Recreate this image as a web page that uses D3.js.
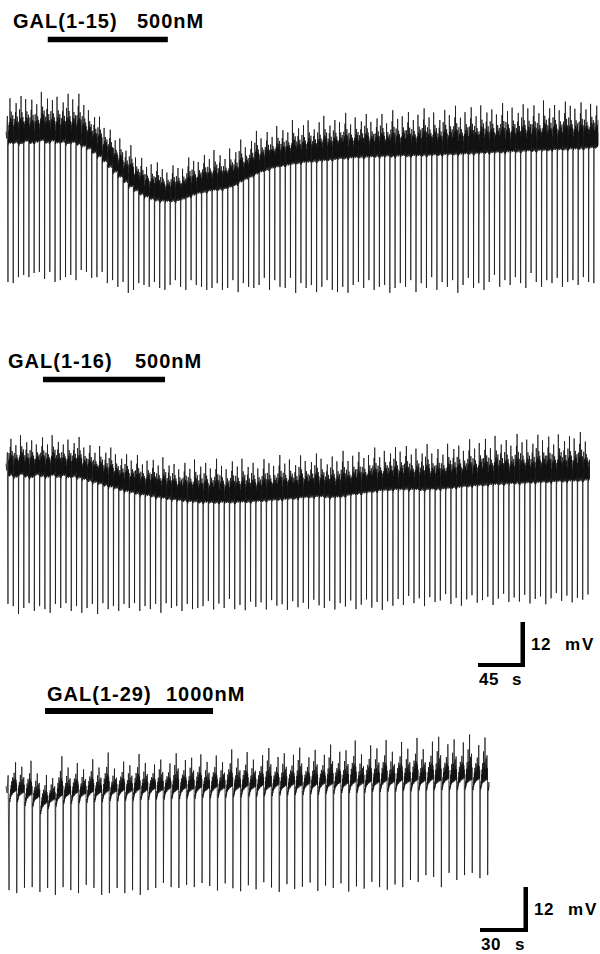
<!DOCTYPE html>
<html>
<head>
<meta charset="utf-8">
<script src="https://cdn.jsdelivr.net/npm/d3@7"></script>
<style>
  body { margin: 0; background: #fff; }
  svg text { font-family: "Liberation Sans", Arial, Helvetica, sans-serif; font-weight: bold; fill: #000; }
</style>
</head>
<body>
<div id="chart"></div>
<script>
// recordings: one value per spike cycle, mV relative to the control baseline
// GAL(1-15) 500nM
var base1 = [0.3, 0.5, 0.2, 0.8, 0.4, 0.6, 1.0, 0.5, 0.9, 0.4, 0.7, 0.2, 0.5, 0.0,
    -0.5, -1.2, -2.2, -3.3, -4.6, -6.0,
    -7.4, -8.7, -10.0, -11.3, -12.4, -13.3, -14.0, -14.6, -14.9, -15.1,
    -15.2, -15.1, -15.0, -14.6, -14.0, -13.5, -13.0, -12.7, -12.4, -12.2,
    -12.0, -11.8, -11.4, -10.8, -10.0, -9.3, -8.6, -7.9, -7.3, -6.8,
    -6.3, -6.0, -5.7, -5.5, -5.2, -5.0, -4.8, -4.7, -4.5, -4.4,
    -4.3, -4.1, -4.0, -3.8, -3.7, -3.6, -3.5, -3.4, -3.4, -3.3,
    -3.2, -3.2, -3.1, -3.2, -3.1, -3.0, -3.1, -3.0, -3.0, -2.9,
    -2.9, -2.8, -2.8, -2.7, -2.7, -2.6, -2.6, -2.5, -2.4, -2.4,
    -2.3, -2.2, -2.2, -2.1, -2.1, -2.0, -1.9, -1.9, -1.8, -1.7,
    -1.7, -1.6, -1.6, -1.5, -1.4, -1.4, -1.3, -1.2, -1.2, -1.1,
    -1.0, -0.9, -0.8];
var trough1 = [-39.2, -39.5, -37.9, -37.3, -37.9, -36.8, -36.5, -38.4, -36.5, -39.2, -38.7, -37.9, -37.3, -38.7, -36.0, -36.5, -38.1, -37.9, -36.5, -39.5,
    -38.7, -40.5, -39.2, -42.1, -41.3, -39.5, -40.0, -40.5, -39.2, -40.8, -41.3, -40.0, -38.7, -40.5, -41.3, -38.7, -40.0,
    -40.5, -41.3, -40.8, -39.5, -41.3, -40.8, -38.7, -41.9, -39.5, -40.5, -40.8, -40.0, -38.1, -41.3, -38.7, -40.5, -40.8, -38.1, -42.1, -39.5,
    -40.8, -40.0, -41.9, -40.5, -38.7, -41.3, -41.9, -40.5, -42.1, -40.0, -39.2, -40.8, -38.7, -41.3, -40.5, -40.0, -42.1, -40.8, -39.5,
    -40.5, -38.7, -41.9, -39.5, -40.8, -37.9, -41.3, -39.2, -40.5, -38.7, -42.1, -40.0, -38.1, -40.8, -39.5, -41.3, -39.2, -37.3, -40.5, -38.7,
    -40.0, -37.9, -39.5, -40.8, -36.8, -39.2, -40.5, -38.7, -39.5, -38.1, -40.5, -39.2, -38.7, -40.0, -37.9, -39.2, -39.5];
var peak1 = [9.5, 8.0, 10.2, 8.8, 9.0, 7.6, 10.5, 9.2, 8.4, 9.8, 8.0, 10.8, 9.0, 11.0, 8.5, 7.8,
    7.0, 8.2, 6.5, 7.4, 6.0, 7.8, 5.8, 8.6, 6.4, 7.2, 5.5, 6.8, 7.6, 6.0, 5.2, 7.0, 6.2, 5.6, 8.0, 6.6,
    5.8, 7.4, 6.0, 8.2, 6.6, 5.4, 7.8, 6.2, 8.8, 6.0, 7.0, 9.0, 6.4, 7.6, 5.8, 8.4, 7.0, 6.2, 9.2, 6.8,
    7.4, 8.6, 6.0, 7.8, 9.4, 6.6, 8.0, 7.2, 9.6, 6.4, 8.2, 7.0, 9.0, 6.8, 7.6, 8.8, 6.2, 9.8, 7.4, 8.0,
    9.2, 7.0, 8.4, 10.0, 7.6, 8.8, 6.8, 9.4, 8.0, 10.4, 7.2, 8.6, 9.8, 7.4, 10.2, 8.2, 9.0, 7.6, 10.6, 8.4,
    9.2, 7.8, 10.0, 8.8, 9.6, 7.4, 10.8, 8.6, 9.4, 8.0, 10.2, 9.0, 8.2, 9.8, 7.8, 9.2, 8.6];

// GAL(1-16) 500nM
var base2 = [0.3, -0.2, 0.5, 0.0, -0.3, 0.4, 0.1, -0.2, 0.3, -0.1, 0.2, -0.3, 0.0, -0.4,
    -0.8, -1.2, -1.6, -2.0,
    -2.4, -2.8, -3.2, -3.6, -4.0, -4.3, -4.6, -4.9, -5.1, -5.3,
    -5.6, -5.8, -6.0, -6.2, -6.4, -6.5, -6.7, -6.8, -6.9,
    -6.9, -7.0, -7.0, -6.9, -7.0, -6.9, -6.9, -6.8, -6.8, -6.7,
    -6.6, -6.5, -6.4, -6.3, -6.2, -6.1, -6.0, -5.9, -5.7, -5.6,
    -5.5, -5.4, -5.4, -5.5, -5.6, -5.5, -5.3, -5.0, -4.8, -4.6,
    -4.4, -4.2, -4.0, -3.8, -3.7, -3.6, -3.5, -3.5, -3.4, -3.5,
    -3.5, -3.6, -3.5, -3.4, -3.4, -3.3, -3.2, -3.0, -2.9, -2.7,
    -2.6, -2.5, -2.4, -2.3, -2.2, -2.1, -2.0, -2.0, -1.9, -1.8,
    -1.8, -1.7, -1.6, -1.6, -1.5, -1.5, -1.4, -1.3, -1.3, -1.2, -1.2, -1.1, -1.0, -1.0];
var trough2 = [-36.5, -37.1, -39.2, -37.6, -36.3, -38.4, -37.1, -37.9, -38.9, -36.5, -37.6, -36.3, -38.4, -37.1, -38.9, -37.6, -36.5, -39.2, -36.3,
    -37.9, -37.1, -38.4, -36.5, -37.6, -36.3, -38.4, -37.1, -37.9, -36.5, -38.9, -36.3, -37.6, -37.1, -38.4, -36.5, -37.9, -37.6,
    -37.1, -35.7, -38.0, -36.4, -37.6, -35.2, -37.9, -36.8, -38.2, -35.9, -37.3, -36.1, -38.0, -35.5, -37.0, -36.6, -38.1, -35.8,
    -37.4, -36.2, -37.8, -35.4, -36.9, -37.6, -35.7, -38.0, -36.3, -37.2, -35.6, -37.9, -36.7, -35.3, -37.5, -36.0, -38.1, -35.8, -37.0,
    -35.2, -36.8, -34.4, -36.3, -35.0, -37.1, -34.7, -36.0, -35.6, -33.9, -36.5, -34.9, -37.0, -35.3, -34.2, -36.2, -35.5, -34.6,
    -36.8, -35.1, -33.8, -36.0, -34.8, -35.9, -34.1, -36.4, -35.2, -34.5, -36.6, -35.0, -33.6, -35.7, -34.3, -36.1, -34.9, -35.4, -34.0];
var peak2 = [7.2, 6.0, 8.0, 6.6, 7.4, 5.6, 7.8, 6.2, 8.2, 6.8, 5.8, 7.6, 6.4, 8.4, 6.0, 7.0, 5.4, 7.6, 6.2,
    8.0, 6.6, 5.8, 7.4, 6.0, 7.8, 5.6, 6.8, 7.2, 6.0, 8.4, 6.4, 7.0, 5.8, 7.6, 6.2, 8.8, 7.0,
    8.0, 6.6, 9.2, 7.2, 6.4, 8.4, 7.0, 9.0, 6.8, 7.8, 6.2, 8.6, 7.4, 6.6, 9.4, 7.0, 8.0, 6.4,
    8.8, 7.2, 6.8, 9.0, 7.6, 6.2, 8.4, 7.0, 9.6, 6.6, 7.8, 8.6, 6.8, 7.4, 9.2, 6.4, 8.0, 7.2, 8.8,
    7.6, 9.0, 6.8, 8.4, 7.2, 9.6, 7.0, 8.2, 6.6, 9.4, 7.8, 8.6, 7.0, 10.0, 7.4, 8.8, 9.8, 7.2,
    10.4, 8.0, 9.2, 7.6, 10.6, 8.4, 9.0, 7.8, 10.2, 8.6, 9.6, 7.4, 10.0, 8.2, 9.4, 8.8, 10.4, 7.8, 9.0];

// GAL(1-29) 1000nM
var base3 = [0.4, 0.0, -0.6, -1.2, -2.8, -1.8, -0.8, -0.4, 0.0, -0.3, 0.2, 0.0, 0.4,
    0.3, 0.6, 0.4, 0.8, 0.6, 1.0, 0.7, 1.1, 0.8, 1.2, 1.0, 1.3, 1.1,
    1.4, 1.2, 1.6, 1.4, 1.7, 1.5, 1.9, 1.6, 2.0, 1.8, 2.2, 1.9, 2.3, 2.1, 2.4,
    2.3, 2.6, 2.4, 2.8, 2.5, 2.9, 2.7, 3.1, 2.8, 3.2, 3.0, 3.3, 3.1, 3.5, 3.2, 3.6, 3.3, 3.7, 3.4, 3.6, 3.4, 3.5];
var trough3 = [-26.7, -27.5, -26.1, -25.9, -27.2, -26.1, -28.0, -25.9, -26.7, -27.5, -25.3, -26.1, -28.0,
    -27.5, -26.1, -27.5, -26.7, -28.0, -26.7, -26.1, -24.8, -25.9, -26.1, -25.3, -25.9, -24.8,
    -25.6, -26.8, -24.9, -26.2, -27.0, -25.4, -26.5, -24.6, -26.0, -27.2, -25.1, -26.4, -25.8,
    -24.7, -26.9, -25.5, -26.1, -24.9, -27.1, -25.7, -26.3, -24.5, -25.9, -26.6, -25.2,
    -25.9, -24.0, -24.5, -22.7, -23.2, -25.9, -22.1, -24.0, -22.7, -22.1, -23.5, -22.7];
var peak3 = [7.0, 6.2, 8.4, 5.6, 6.8, 5.0, 9.8, 6.4, 7.2, 5.8, 8.0, 6.0, 9.6,
    5.4, 7.0, 6.2, 8.8, 6.6, 5.8, 7.4, 6.0, 9.0, 6.8, 7.6, 8.2, 6.4,
    7.8, 6.2, 9.2, 7.0, 8.4, 6.6, 7.4, 9.6, 6.8, 8.0, 7.2, 9.4, 6.4,
    8.6, 7.0, 9.8, 7.6, 8.2, 10.4, 7.0, 9.0, 8.4, 10.2, 7.4, 9.6,
    8.0, 10.6, 7.8, 9.4, 11.0, 8.6, 10.2, 9.0, 11.4, 8.4, 10.6, 9.2];

// spike timing (s): first spike and mean interspike interval
var firstSpike = [1.9, 1.9, 1.9];
var isi = [5.01, 5.05, 4.825];
var recordLength = [567, 559, 302];

// drug application windows (s)
var drug1 = [40, 155], drug2 = [35.4, 152.3], drug3 = [24.4, 129.4];
var drugLabels = [["GAL(1-15)", "500nM"], ["GAL(1-16)", "500nM"], ["GAL(1-29)", "1000nM"]];

// calibration bars [s, mV]
var calib1 = [45, 12], calib2 = [30, 12];

// shape of the noise between spikes (mV, positive part scaled by the cycle peak / 8)
var tplA = [-3.6, -1.6, -2.8, 0.8, -2.2, 2.0, -1.8, 2.6, -2.4, 1.4, -1.6, 8.0, -2.0, 2.4, -2.6, 3.6, -1.4, 1.8, -2.2, 5.0, -1.8, 2.8, -2.4, 1.6, -2.0, 3.4, -1.2, 2.2, -2.6, 4.2, -1.6, 2.0];
var tplB = [-3.2, -2.0, -2.4, 1.6, -2.6, 3.8, -1.6, 2.2, -2.8, 1.2, -1.8, 2.8, -2.2, 5.6, -1.4, 2.0, -2.6, 8.0, -1.8, 2.6, -1.2, 3.2, -2.4, 1.4, -2.0, 4.4, -1.6, 2.4, -2.8, 1.8, -1.4, 3.0];
var tplC = [-3.8, -1.8, -3.0, 1.0, -2.0, 5.2, -2.4, 2.4, -1.6, 3.0, -2.6, 1.6, -1.8, 3.4, -2.2, 8.0, -2.0, 2.2, -1.4, 3.0, -2.6, 4.6, -1.8, 2.0, -2.4, 2.8, -1.6, 3.6, -2.2, 1.4, -2.0, 2.6];
var tpl3a = [-4.4, -2.6, -3.6, -1.4, -2.8, -0.2, -2.2, 1.0, -1.8, 2.2, -1.4, 1.2, -1.6, 3.4, -1.0, 1.8, -1.2, 2.8, -0.8, 4.8, -1.0, 2.2, -0.6, 3.2, -0.8, 8.0, -0.2, 2.6, -0.6, 1.6];
var tpl3b = [-4.0, -2.2, -3.2, -1.0, -2.6, 0.6, -2.0, 1.6, -1.6, 2.8, -1.2, 1.4, -1.4, 5.2, -0.8, 2.0, -1.2, 3.0, -0.6, 8.0, -1.0, 1.8, -0.8, 3.8, -0.4, 2.4, -0.6, 4.4, -0.8, 1.8];

var trace_view = {
    view: 0,
    width: 600,
    height: 954,
    initialize: function() {
        var self = this;
        self.view = d3.select("#chart").append("svg")
            .attr("width", self.width)
            .attr("height", self.height);
        self.view.append("rect").attr("width", self.width).attr("height", self.height).attr("fill", "#fff");
    },
    build: function(k, base, trough, peak, tpls) {
        var pts = [];
        var t0 = firstSpike[k], p = isi[k];
        pts.push([0, base[0] + 0.6]);
        pts.push([t0 * 0.35, base[0] - 1.2]);
        pts.push([t0 * 0.7, base[0] + peak[0] * 0.5]);
        for (var i = 0; i < base.length; i++) {
            var t = t0 + p * i;
            pts.push([t, trough[i]]);
            var tpl = tpls[i % tpls.length];
            var m = tpl.length;
            for (var j = 0; j < m; j++) {
                var ph = 0.05 + 0.92 * j / (m - 1);
                var v = tpl[j] > 0 ? tpl[j] * peak[i] / 8 : tpl[j];
                pts.push([t + ph * p, base[i] + v]);
            }
        }
        return pts.filter(function(d) { return d[0] <= recordLength[k]; });
    },
    draw_trace: function(pts, x, y) {
        var self = this;
        var line = d3.line()
            .x(function(d) { return x(d[0]); })
            .y(function(d) { return y(d[1]); });
        self.view.append("path")
            .datum(pts)
            .attr("d", line)
            .attr("fill", "none")
            .attr("stroke", "#111")
            .attr("stroke-width", 0.75)
            .attr("stroke-linejoin", "round");
    },
    draw_label: function(lab, drug, x, tx1, tx2, ty, by, bh) {
        var self = this;
        self.view.append("text").attr("x", tx1).attr("y", ty)
            .attr("font-size", 20).attr("letter-spacing", 1).text(lab[0]);
        self.view.append("text").attr("x", tx2).attr("y", ty)
            .attr("font-size", 20).attr("letter-spacing", 1).text(lab[1]);
        self.view.append("rect")
            .attr("x", x(drug[0]))
            .attr("y", by - bh / 2)
            .attr("width", x(drug[1]) - x(drug[0]))
            .attr("height", bh)
            .attr("fill", "#000");
    },
    draw_calib: function(cal, x, y, cx, cy, sLabel) {
        var self = this;
        var w = x(cal[0]) - x(0);
        var h = y(0) - y(cal[1]);
        var g = self.view.append("g");
        g.append("rect").attr("x", cx - w).attr("y", cy - 4).attr("width", w).attr("height", 4).attr("fill", "#000");
        g.append("rect").attr("x", cx - 4.5).attr("y", cy - h).attr("width", 4.5).attr("height", h).attr("fill", "#000");
        g.append("text").attr("x", cx + 6).attr("y", cy - h + 28).attr("font-size", 17).attr("letter-spacing", 0.5).text(cal[1]);
        g.append("text").attr("x", cx + 40).attr("y", cy - h + 28).attr("font-size", 17).attr("letter-spacing", 2).text("mV");
        g.append("text").attr("x", cx - w + 1).attr("y", cy + 18).attr("font-size", 17).attr("letter-spacing", 0.5).text(cal[0]);
        g.append("text").attr("x", cx - 13).attr("y", cy + 18).attr("font-size", 17).text(sLabel);
    }
};

trace_view.initialize();

var xA = d3.scaleLinear().domain([0, 567]).range([6, 598]);
var xB = d3.scaleLinear().domain([0, 302]).range([6, 489.2]);
var y1 = d3.scaleLinear().domain([0, 12]).range([135, 90]);
var y2 = d3.scaleLinear().domain([0, 12]).range([467, 422]);
var y3 = d3.scaleLinear().domain([0, 12]).range([790, 745]);

trace_view.draw_label(drugLabels[0], drug1, xA, 13, 137, 28, 39.5, 5.5);
trace_view.draw_label(drugLabels[1], drug2, xA, 8, 135, 368, 379.5, 5.5);
trace_view.draw_label(drugLabels[2], drug3, xB, 47, 166, 701, 711, 6);

trace_view.draw_trace(trace_view.build(0, base1, trough1, peak1, [tplA, tplB, tplC]), xA, y1);
trace_view.draw_trace(trace_view.build(1, base2, trough2, peak2, [tplB, tplC, tplA]), xA, y2);
trace_view.draw_trace(trace_view.build(2, base3, trough3, peak3, [tpl3a, tpl3b]), xB, y3);

trace_view.draw_calib(calib1, xA, y1, 525, 667, "s");
trace_view.draw_calib(calib2, xB, y3, 528, 932, "s");
</script>
</body>
</html>
